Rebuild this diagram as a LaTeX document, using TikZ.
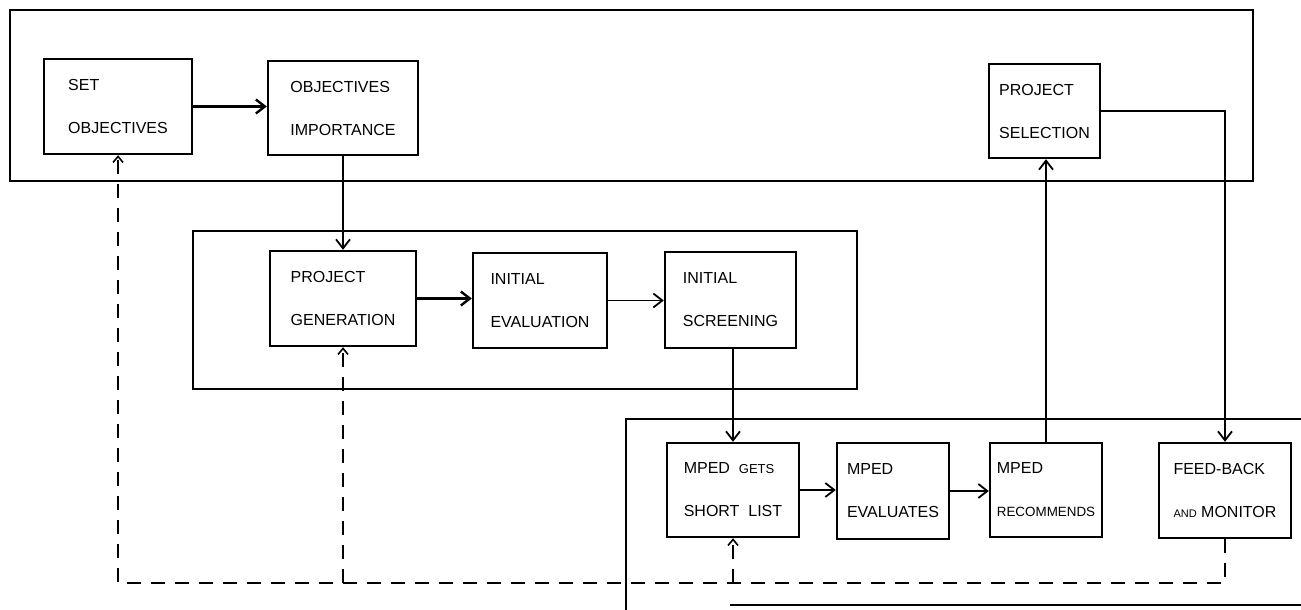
\documentclass[tikz,border=0pt]{standalone}
\usepackage{fontspec}
\setmainfont{Liberation Sans}
\usetikzlibrary{arrows.meta}
\begin{document}
\begin{tikzpicture}[x=0.5pt,y=-0.5pt,
  box/.style={draw, line width=1.2pt, align=left, inner sep=0pt,
    font=\fontsize{8}{21.5}\selectfont},
  frame/.style={draw, line width=0.8pt},
  conn/.style={line width=0.9pt, -{Straight Barb[length=4.5pt,width=7pt,line width=0.9pt]}},
  thickconn/.style={line width=1.5pt, -{Straight Barb[length=4.5pt,width=7pt,line width=1.2pt]}},
  fbdash/.style={line width=0.8pt, dash pattern=on 7pt off 5pt},
  fbtip/.style={-{Straight Barb[length=3pt,width=5pt,line width=0.8pt]}},
  smalltxt/.style={}]
\useasboundingbox (0,0) rectangle (1301,610);

% frames
\draw[frame] (10,10) rectangle (1253,181);
\draw[frame] (193,231) rectangle (857,389);
\draw[frame] (1301,419) -- (626,419) -- (626,610);
\draw[frame] (730,605) -- (1301,605);

% boxes
\node[box, minimum width=74pt, minimum height=47.5pt] (so) at (118,106.5) {SET\\OBJECTIVES};
\node[box, minimum width=75pt, minimum height=47pt] (oi) at (343,108) {OBJECTIVES\\IMPORTANCE};
\node[box, minimum width=55.5pt, minimum height=47pt] (ps) at (1044.5,111) {PROJECT\\SELECTION};
\node[box, minimum width=73pt, minimum height=47.5pt] (pg) at (343,298.5) {PROJECT\\GENERATION};
\node[box, minimum width=67pt, minimum height=47.5pt] (ie) at (540,300.5) {INITIAL\\EVALUATION};
\node[box, minimum width=65.5pt, minimum height=48pt] (is) at (730.5,300) {INITIAL\\SCREENING};
\node[box, minimum width=66pt, minimum height=47pt] (mg) at (733,490)
  {MPED\ \ {\fontsize{6.5}{21.5}\selectfont GETS}\\SHORT\ \ LIST};
\node[box, minimum width=56pt, minimum height=48pt] (me) at (893,491) {MPED\\EVALUATES};
\node[box, minimum width=56pt, minimum height=47pt] (mr) at (1046,490)
  {MPED\\{\fontsize{6.7}{21.5}\selectfont RECOMMENDS}};
\node[box, minimum width=66pt, minimum height=47.5pt] (fb) at (1225,490.5)
  {FEED-BACK\\{\fontsize{5.5}{21.5}\selectfont AND}\ MONITOR};

% connectors
\draw[thickconn] (so.east) -- (so.east -| oi.west);
\draw[conn] (oi.south) -- (oi.south |- pg.north);
\draw[thickconn] (pg.east) -- (pg.east -| ie.west);
\draw[conn] (ie.east) -- (ie.east -| is.west);
\draw[conn] (mg.north |- is.south) -- (mg.north);
\draw[conn] (mg.east) -- (mg.east -| me.west);
\draw[conn] (me.east) -- (me.east -| mr.west);
\draw[conn, line width=1.1pt] (mr.north) -- (mr.north |- ps.south);
\draw[conn] (ps.east) -| (fb.north);

% feedback (dashed)
\coordinate (dl) at (118,583);
\draw[fbdash, fbtip] (fb.south) |- (dl) -- (so.south);
\draw[fbdash, fbtip] (pg.south |- dl) -- (pg.south);
\draw[fbdash, fbtip] (mg.south |- dl) -- (mg.south);
\end{tikzpicture}
\end{document}
